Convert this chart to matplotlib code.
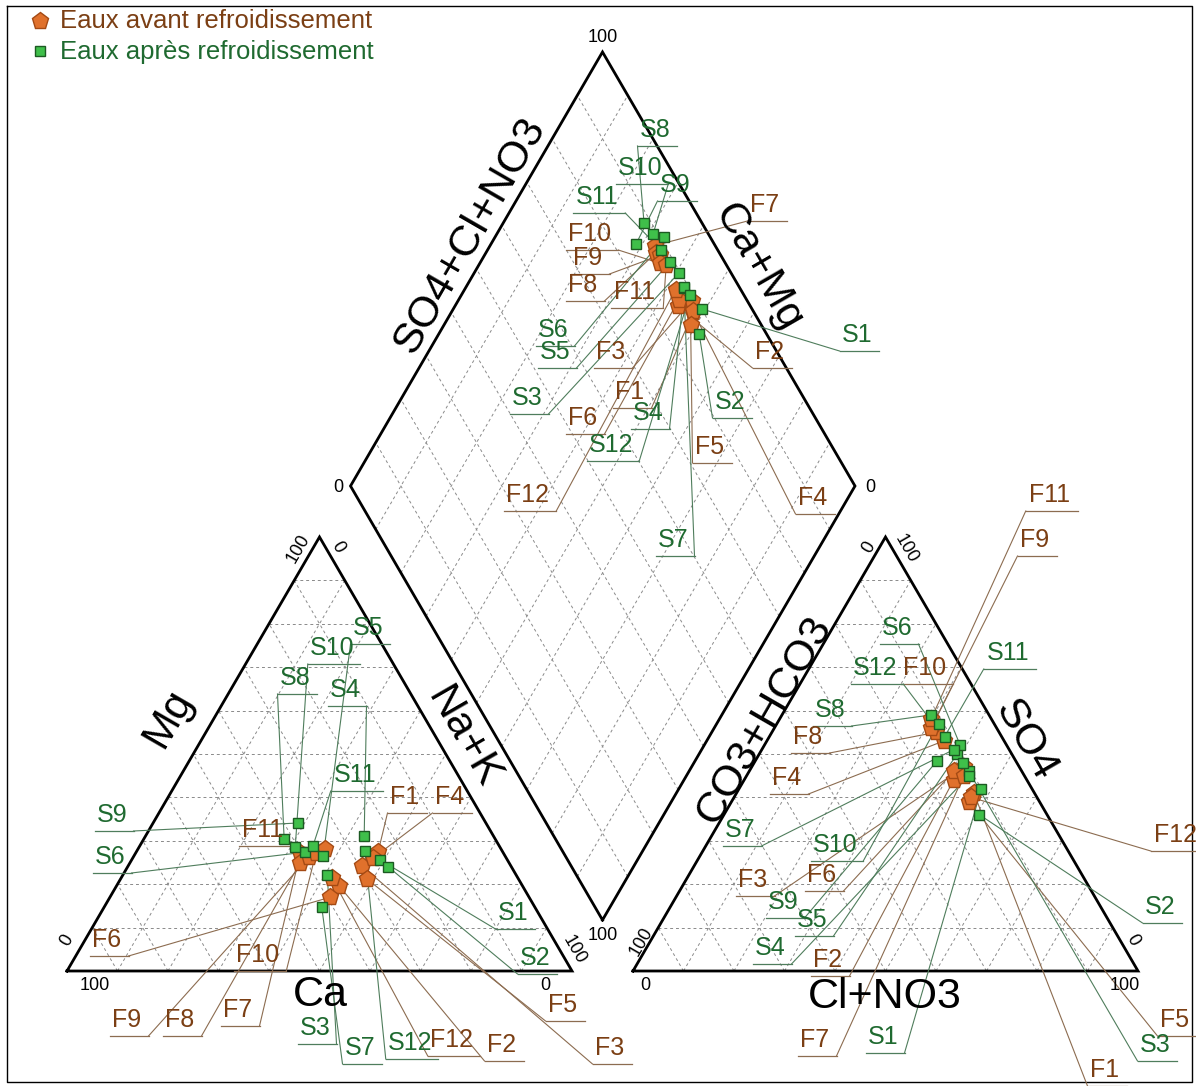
import matplotlib
matplotlib.use("Agg")
import matplotlib.pyplot as plt
import numpy as np

plt.rcParams['font.family'] = ['Liberation Sans', 'DejaVu Sans']

# ---------------- data (meq %) ----------------
f_names = [f"F{i}" for i in range(1, 13)]
f_ca   = [24.7, 36.3, 29.5, 26.4, 30.0, 39.4, 40.2, 41.4, 38.9, 37.1, 34.8, 36.8]
f_mg   = [27.4, 19.6, 24.2, 26.0, 21.2, 17.0, 27.2, 24.9, 26.3, 27.2, 28.1, 21.4]
f_nak  = [47.9, 44.1, 46.3, 47.6, 48.8, 43.6, 32.6, 33.7, 34.8, 35.7, 37.1, 41.8]
f_hco3 = [12.0, 14.5, 11.0, 12.0, 14.0, 13.5, 12.0, 12.5, 12.0, 13.0, 12.0, 13.0]
f_so4  = [41.0, 44.0, 47.0, 53.0, 39.0, 46.0, 45.0, 55.0, 57.0, 56.0, 58.0, 40.0]
f_cl   = [47.0, 41.5, 42.0, 35.0, 47.0, 40.5, 43.0, 32.5, 31.0, 31.0, 30.0, 47.0]

s_names = [f"S{i}" for i in range(1, 13)]
s_ca   = [25.2, 24.4, 37.4, 25.6, 36.0, 39.1, 42.2, 41.8, 37.2, 40.5, 36.9, 27.2]
s_mg   = [25.6, 24.0, 22.1, 31.1, 26.5, 27.4, 14.7, 30.4, 34.1, 28.6, 28.8, 27.6]
s_nak  = [49.2, 51.6, 40.5, 43.3, 37.5, 33.5, 43.1, 27.8, 28.7, 30.9, 34.3, 45.2]
s_hco3 = [10.0, 13.4, 10.5, 11.0, 10.8, 9.2, 11.0, 11.5, 15.6, 11.0, 11.3, 10.7]
s_so4  = [42.0, 36.0, 46.0, 45.0, 50.0, 52.0, 51.0, 59.0, 48.4, 57.0, 54.0, 48.0]
s_cl   = [48.0, 50.6, 43.5, 44.0, 39.2, 38.8, 38.0, 29.5, 36.0, 32.0, 34.7, 41.3]

legend_labels = ["Eaux avant refroidissement", "Eaux après refroidissement"]

# ---------------- diagram geometry (figure pixels) ----------------
CAT = dict(bl=np.array([67.0, 971.0]), br=np.array([572.0, 971.0]), top=np.array([319.5, 537.0]))
AN = dict(bl=np.array([633.0, 971.0]), br=np.array([1138.0, 971.0]), top=np.array([885.5, 537.0]))
DB, DL = np.array([602.5, 920.0]), np.array([350.5, 486.0])
DT, DR = np.array([602.5, 52.0]), np.array([855.0, 486.0])

F_TXT, S_TXT = '#7b3f14', '#1f6a30'
F_LINE, S_LINE = '#8c6c50', '#4f7d5c'
F_FACE, F_EDGE = '#e0712c', '#a44a14'
S_FACE, S_EDGE = '#3fbf4a', '#1c5a22'
GRID = '#8a8a8a'
TITLE_FONT = ['Liberation Sans Narrow', 'Liberation Sans', 'DejaVu Sans']


def tern(tri, a_bl, a_top, a_br):
    tot = np.asarray(a_bl) + np.asarray(a_top) + np.asarray(a_br)
    u, v, w = (np.asarray(a_bl) / tot, np.asarray(a_top) / tot, np.asarray(a_br) / tot)
    return np.outer(u, tri['bl']) + np.outer(v, tri['top']) + np.outer(w, tri['br'])


def diamond(ca, mg, nak, hco3, so4, cl):
    ca, mg, nak = map(np.asarray, (ca, mg, nak))
    hco3, so4, cl = map(np.asarray, (hco3, so4, cl))
    c = (ca + mg) / (ca + mg + nak)
    a = (so4 + cl) / (hco3 + so4 + cl)
    return DB + np.outer(c, DL - DB) + np.outer(a, DR - DB)


fig = plt.figure(figsize=(11.96, 10.86), dpi=100)
ax = fig.add_axes([0, 0, 1, 1])
ax.set_xlim(0, 1196)
ax.set_ylim(1086, 0)
ax.axis('off')

# outer frame
ax.plot([7, 1192, 1192, 7, 7], [6, 6, 1082, 1082, 6], color='black', lw=1.0)

gkw = dict(color=GRID, lw=0.7, ls=(0, (3, 3)), zorder=1)

# triangle grids and outlines
for tri in (CAT, AN):
    bl, br, tp = tri['bl'], tri['br'], tri['top']
    for i in range(1, 10):
        t = i / 10
        p, q = bl + t * (tp - bl), br + t * (tp - br)
        ax.plot([p[0], q[0]], [p[1], q[1]], **gkw)
        p, q = bl + t * (br - bl), tp + t * (br - tp)
        ax.plot([p[0], q[0]], [p[1], q[1]], **gkw)
        p, q = br + t * (bl - br), tp + t * (bl - tp)
        ax.plot([p[0], q[0]], [p[1], q[1]], **gkw)
    xs = [bl[0], br[0], tp[0], bl[0]]
    ys = [bl[1], br[1], tp[1], bl[1]]
    ax.plot(xs, ys, color='black', lw=2.0, zorder=3, solid_joinstyle='miter')

# diamond grid and outline
for i in range(1, 10):
    t = i / 10
    p, q = DB + t * (DR - DB), DL + t * (DT - DL)
    ax.plot([p[0], q[0]], [p[1], q[1]], **gkw)
    p, q = DB + t * (DL - DB), DR + t * (DT - DR)
    ax.plot([p[0], q[0]], [p[1], q[1]], **gkw)
ax.plot([DB[0], DL[0], DT[0], DR[0], DB[0]], [DB[1], DL[1], DT[1], DR[1], DB[1]],
        color='black', lw=2.0, zorder=3, solid_joinstyle='miter')

# point positions in the three fields
f_cat = tern(CAT, f_ca, f_mg, f_nak)
s_cat = tern(CAT, s_ca, s_mg, s_nak)
f_an = tern(AN, f_hco3, f_so4, f_cl)
s_an = tern(AN, s_hco3, s_so4, s_cl)
f_dia = diamond(f_ca, f_mg, f_nak, f_hco3, f_so4, f_cl)
s_dia = diamond(s_ca, s_mg, s_nak, s_hco3, s_so4, s_cl)

# label placement (text centre, pixels) for each field
lab_dia = {
    'S8': (655, 130), 'S10': (640, 168), 'S9': (675, 185), 'S11': (597, 197),
    'F7': (765, 205), 'F10': (590, 234), 'F9': (588, 258), 'F8': (583, 285),
    'F11': (635, 292), 'S1': (857, 335), 'S6': (553, 330), 'S5': (555, 352),
    'F3': (611, 352), 'F2': (770, 352), 'S3': (527, 398), 'F1': (630, 392),
    'S4': (648, 413), 'S2': (730, 402), 'F6': (583, 418), 'S12': (611, 445),
    'F5': (710, 447), 'F12': (528, 495), 'F4': (813, 498), 'S7': (673, 540),
}
lab_cat = {
    'S5': (368, 628), 'S10': (332, 648), 'S8': (295, 678), 'S4': (345, 690),
    'S11': (355, 775), 'F1': (405, 797), 'F4': (450, 797), 'S9': (112, 815),
    'F11': (263, 830), 'S6': (110, 857), 'S1': (513, 913), 'F6': (107, 940),
    'F10': (258, 955), 'S2': (535, 958), 'F5': (563, 1005), 'F9': (127, 1020),
    'F8': (180, 1020), 'F7': (238, 1010), 'S3': (315, 1028), 'F12': (452, 1040),
    'F2': (502, 1045), 'S7': (360, 1048), 'S12': (410, 1043), 'F3': (610, 1048),
}
lab_an = {
    'F11': (1050, 495), 'F9': (1035, 540), 'S6': (897, 628), 'S11': (1008, 653),
    'S12': (875, 668), 'F10': (925, 668), 'S8': (830, 710), 'F8': (808, 737),
    'F4': (787, 778), 'S7': (740, 830), 'F12': (1175, 835), 'S10': (835, 845),
    'F6': (822, 875), 'F3': (753, 880), 'S9': (783, 902), 'S5': (812, 920),
    'S2': (1160, 907), 'S4': (770, 948), 'F2': (828, 960), 'F5': (1175, 1020),
    'F7': (815, 1040), 'S1': (883, 1037), 'S3': (1155, 1045), 'F1': (1105, 1070),
}


def label_points(names, pts, layout, tcol, lcol):
    for name, (px, py) in zip(names, pts):
        cx, cy = layout[name]
        w = 13.5 * len(name)
        x0, x1 = cx - w / 2 - 4, cx + w / 2 + 8
        yl = cy + 16
        ax.plot([x0, x1], [yl, yl], color=lcol, lw=0.9, zorder=4)
        ex = x0 if abs(px - x0) < abs(px - x1) else x1
        ax.plot([px, ex], [py, yl], color=lcol, lw=0.8, zorder=4)
        ax.text(cx, cy, name, color=tcol, fontsize=18, ha='center', va='center', zorder=7)


for layout, fp, sp in ((lab_dia, f_dia, s_dia), (lab_cat, f_cat, s_cat), (lab_an, f_an, s_an)):
    label_points(f_names, fp, layout, F_TXT, F_LINE)
    label_points(s_names, sp, layout, S_TXT, S_LINE)
    ax.plot(fp[:, 0], fp[:, 1], ls='none', marker='p', ms=12.5, mfc=F_FACE, mec=F_EDGE, mew=1.0, zorder=5)
    ax.plot(sp[:, 0], sp[:, 1], ls='none', marker='s', ms=7.5, mfc=S_FACE, mec=S_EDGE, mew=1.0, zorder=6)

# axis titles
tkw = dict(fontsize=31, color='black', ha='center', va='center', zorder=8, family=TITLE_FONT)
ax.text(470, 236, 'SO4+Cl+NO3', rotation=60, **tkw)
ax.text(758, 268, 'Ca+Mg', rotation=-60, **tkw)
ax.text(168, 718, 'Mg', rotation=60, **tkw)
ax.text(463, 738, 'Na+K', rotation=-60, **tkw)
ax.text(320, 995, 'Ca', **tkw)
ax.text(765, 720, 'CO3+HCO3', rotation=60, **tkw)
ax.text(1025, 740, 'SO4', rotation=-60, **tkw)
ax.text(885, 997, 'Cl+NO3', **tkw)

# scale end values
nkw = dict(fontsize=13, color='black', ha='center', va='center', zorder=8)
ax.text(603, 38, '100', **nkw)
ax.text(338, 487, '0', **nkw)
ax.text(870, 487, '0', **nkw)
ax.text(603, 936, '100', **nkw)
ax.text(298, 549, '100', rotation=60, **nkw)
ax.text(338, 547, '0', rotation=-60, **nkw)
ax.text(67, 940, '0', rotation=60, **nkw)
ax.text(95, 985, '100', **nkw)
ax.text(545, 985, '0', **nkw)
ax.text(574, 950, '100', rotation=-60, **nkw)
ax.text(645, 985, '0', **nkw)
ax.text(641, 942, '100', rotation=60, **nkw)
ax.text(869, 547, '0', rotation=60, **nkw)
ax.text(906, 549, '100', rotation=-60, **nkw)
ax.text(1133, 940, '0', rotation=-60, **nkw)
ax.text(1125, 985, '100', **nkw)

# legend
ax.plot([40], [21], ls='none', marker='p', ms=12.5, mfc=F_FACE, mec=F_EDGE, mew=1.0)
ax.plot([40], [51], ls='none', marker='s', ms=7.5, mfc=S_FACE, mec=S_EDGE, mew=1.0)
ax.text(60, 21, legend_labels[0], fontsize=18.5, color=F_TXT, va='center', ha='left')
ax.text(60, 52, legend_labels[1], fontsize=18.5, color=S_TXT, va='center', ha='left')

fig.savefig('out.png', dpi=100)
